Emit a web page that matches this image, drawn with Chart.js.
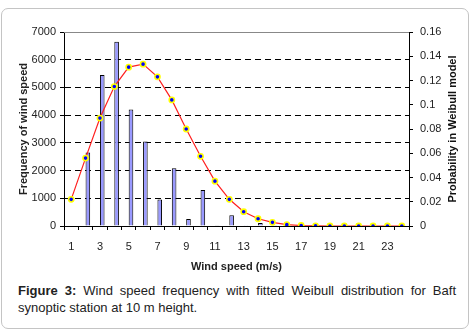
<!DOCTYPE html>
<html><head><meta charset="utf-8">
<script src="https://cdn.jsdelivr.net/npm/chart.js@4/dist/chart.umd.min.js"></script>
<style>
html,body{margin:0;padding:0;background:#fff;width:476px;height:333px;overflow:hidden;font-family:"Liberation Sans",Arial,sans-serif;}
#frame{position:absolute;left:1px;top:8px;width:466px;height:319px;border:1px solid #c4c4c4;border-radius:7px;}
#c{position:absolute;left:0;top:0;}
#cap{position:absolute;left:18px;top:282px;width:438px;font-size:13px;line-height:17px;color:#222;text-align:justify;}
</style></head><body>
<div id="frame"></div>
<canvas id="c" width="476" height="275"></canvas>
<div id="cap"><b>Figure 3:</b> Wind speed frequency with fitted Weibull distribution for Baft synoptic station at 10 m height.</div>
<script>
const speeds = ['1','2','3','4','5','6','7','8','9','10','11','12','13','14','15','16','17','18','19','20','21','22','23','24'];
const frequency = [0,2650,5450,6650,4200,3050,960,2080,250,1300,25,390,30,110,10,0,0,0,0,0,0,0,0,0];
const weibull = [0.022,0.056,0.089,0.115,0.131,0.1335,0.123,0.104,0.080,0.0575,0.037,0.022,0.0118,0.006,0.003,0.0011,0.0004,0.0001,0,0,0,0,0,0];
const spacer = speeds.map(() => null);

const overlay = {
  id:'overlay',
  afterDraw(chart){
    const {ctx, chartArea:a} = chart;
    ctx.save();
    ctx.strokeStyle = '#888';
    ctx.lineWidth = 1;
    ctx.beginPath();
    ctx.moveTo(a.left, Math.round(a.top)+0.5);
    ctx.lineTo(a.right, Math.round(a.top)+0.5);
    ctx.stroke();
    ctx.translate(453, (a.top+a.bottom)/2);
    ctx.rotate(-Math.PI/2);
    ctx.font = 'bold 11px "Liberation Sans", Arial, sans-serif';
    ctx.fillStyle = '#111';
    ctx.textAlign = 'center';
    ctx.textBaseline = 'middle';
    ctx.fillText('Probability in Weibull model', 0, 0);
    ctx.restore();
  }
};

const tickFont = {family:'"Liberation Sans", Arial, sans-serif', size:11};
const titleFont = {family:'"Liberation Sans", Arial, sans-serif', size:11, weight:'bold'};

new Chart(document.getElementById('c'), {
  data: {
    labels: speeds,
    datasets: [
      {type:'line', label:'Weibull', data: weibull, yAxisID:'y1', borderColor:'#ff2020', borderWidth:1.2,
       pointRadius:2.6, pointBorderWidth:1.6, pointBackgroundColor:'#0000ff', pointBorderColor:'#ffff00', tension:0},
      {type:'bar', label:'spacer', data: spacer, yAxisID:'y', backgroundColor:'rgba(0,0,0,0)',
       categoryPercentage:0.64, barPercentage:1},
      {type:'bar', label:'Frequency', data: frequency, yAxisID:'y', backgroundColor:'#9999ff',
       borderColor:'#000', borderWidth:1, categoryPercentage:0.64, barPercentage:1}
    ]
  },
  options: {
    responsive:false, animation:false, devicePixelRatio:1,
    layout:{padding:{top:32,left:0,right:0,bottom:0}},
    plugins:{legend:{display:false}, tooltip:{enabled:false}},
    scales:{
      x:{
        offset:true,
        grid:{offset:true, drawOnChartArea:false, drawTicks:true, tickLength:4, tickColor:'#000'},
        border:{color:'#000'},
        ticks:{autoSkip:false, maxRotation:0, padding:10, color:'#222', font:tickFont,
          callback:(v,i)=> i%2===0 ? speeds[i] : ''},
        title:{display:true, text:'Wind speed (m/s)', color:'#222', font:titleFont, padding:{top:0,bottom:1}},
        afterFit:s=>{s.height = 49;}
      },
      y:{
        position:'left', min:0, max:7000,
        ticks:{stepSize:1000, padding:4, color:'#222', font:tickFont, callback:v=> String(v)},
        grid:{tickLength:4, tickColor:'#000', lineWidth:1,
          color:c=> (c.tick && (c.tick.value===0 || c.tick.value===7000)) ? 'rgba(0,0,0,0)' : '#000'},
        border:{color:'#000', dash:[6,4]},
        title:{display:true, text:'Frequency of wind speed', color:'#222', font:titleFont, padding:{top:17,bottom:0}},
        afterFit:s=>{s.width = 64;}
      },
      y1:{
        position:'right', min:0, max:0.16,
        ticks:{stepSize:0.02, padding:7, color:'#222', font:tickFont, callback:v=> String(+v.toFixed(2))},
        grid:{drawOnChartArea:false, tickLength:4, tickColor:'#000'},
        border:{color:'#000'},
        afterFit:s=>{s.width = 67;}
      }
    }
  },
  plugins:[overlay]
});
</script>
</body></html>
